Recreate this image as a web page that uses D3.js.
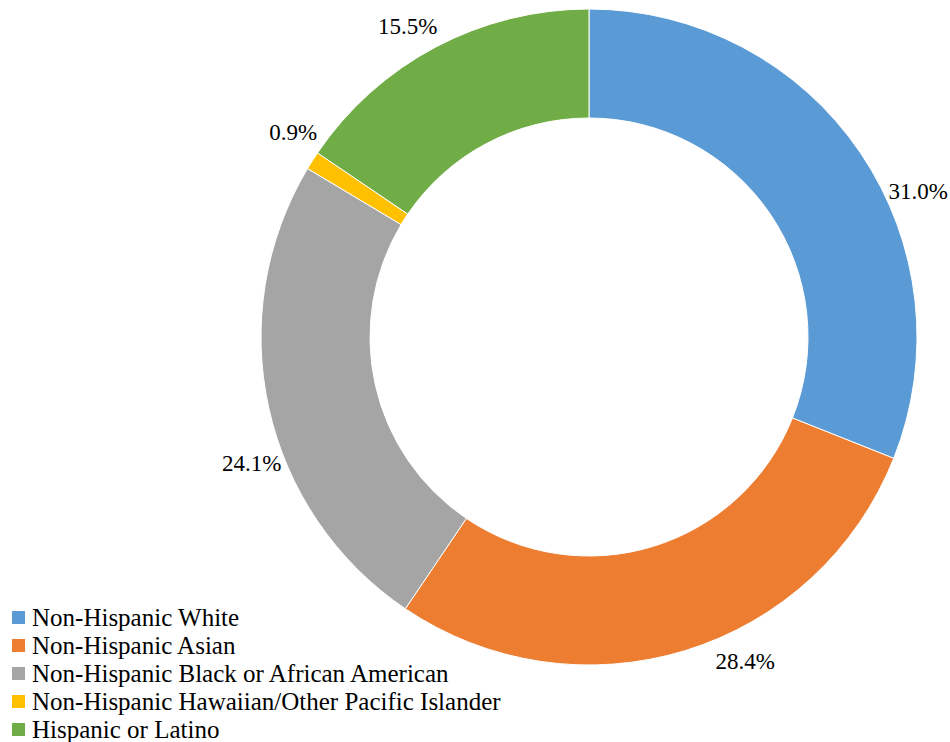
<!DOCTYPE html>
<html><head><meta charset="utf-8"><script src="https://cdn.jsdelivr.net/npm/d3@7"></script>
<style>svg text { font-family: "Times New Roman", "Liberation Serif", Tinos, serif; }</style>
</head>
<body style="margin:0">
<script>
const categories = [
  "Non-Hispanic White",
  "Non-Hispanic Asian",
  "Non-Hispanic Black or African American",
  "Non-Hispanic Hawaiian/Other Pacific Islander",
  "Hispanic or Latino"
];
const shares = [31.0, 28.4, 24.1, 0.9, 15.5];
const colors = ["#5B9BD5", "#ED7D31", "#A5A5A5", "#FFC000", "#70AD47"];

let width = 950, height = 742;

let svg = d3.select("body")
  .append("svg")
  .attr("width", width)
  .attr("height", height);

const cx = 589, cy = 337;
const outerR = 328, innerR = 219;

const data = categories.map((c, i) => ({ name: c, value: shares[i], color: colors[i] }));

const pie = d3.pie().sort(null).value(d => d.value);
const arcs = pie(data);

const arc = d3.arc().innerRadius(innerR).outerRadius(outerR);

let g = svg.append("g")
  .attr("transform", `translate(${cx},${cy})`);

g.selectAll("path")
  .data(arcs)
  .enter()
  .append("path")
  .attr("d", arc)
  .attr("fill", d => d.data.color)
  .attr("stroke", "#fff")
  .attr("stroke-width", 1);

// labels sit outside the ring; small angle tweaks (degrees) to match the original placement
const labelR = 360;
const labelShift = [10.3, -8.6, -7.9, 2.2, -2.3];

function labelPos(d, i) {
  const a = (d.startAngle + d.endAngle) / 2 + labelShift[i] * Math.PI / 180;
  return [labelR * Math.sin(a) + cx, -labelR * Math.cos(a) + cy];
}

svg.selectAll("text.pct")
  .data(arcs)
  .enter()
  .append("text")
  .attr("class", "pct")
  .attr("x", (d, i) => labelPos(d, i)[0])
  .attr("y", (d, i) => labelPos(d, i)[1] + 8)
  .attr("text-anchor", "middle")
  .attr("font-family", "Times New Roman, serif")
  .attr("font-size", 23)
  .text(d => d.data.value.toFixed(1) + "%");

// legend
svg.selectAll("rect.key")
  .data(data)
  .enter()
  .append("rect")
  .attr("class", "key")
  .attr("x", 12)
  .attr("y", (d, i) => 611 + i * 28)
  .attr("width", 13)
  .attr("height", 13)
  .attr("fill", d => d.color);

svg.selectAll("text.key")
  .data(data)
  .enter()
  .append("text")
  .attr("class", "key")
  .attr("x", 32)
  .attr("y", (d, i) => 626 + i * 28)
  .attr("font-family", "Times New Roman, serif")
  .attr("font-size", 25)
  .text(d => d.name);
</script>
</body></html>
